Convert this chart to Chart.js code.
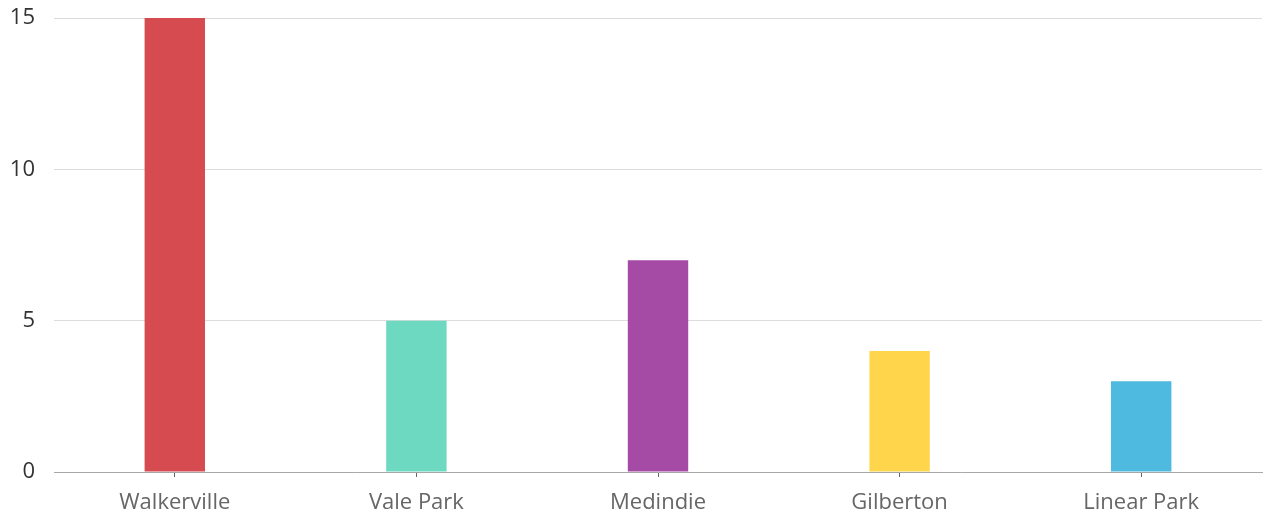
<!DOCTYPE html>
<html>
<head>
<meta charset="utf-8">
<script src="https://cdn.jsdelivr.net/npm/chart.js@4"></script>
<style>
  html, body { margin: 0; padding: 0; background: #fff; }
  #wrap { width: 1266px; height: 519px; position: relative; }
</style>
</head>
<body>
<div id="wrap"><canvas id="c"></canvas></div>
<script>
const categories = ['Walkerville', 'Vale Park', 'Medindie', 'Gilberton', 'Linear Park'];
const counts = [15, 5, 7, 4, 3];
const barColors = ['#d64b50', '#6dd9c1', '#a54aa5', '#ffd54c', '#4fbae0'];
const yTicks = [0, 5, 10, 15];

new Chart(document.getElementById('c'), {
  type: 'bar',
  data: {
    labels: categories,
    datasets: [{
      data: counts,
      backgroundColor: barColors,
      borderWidth: 0,
      barPercentage: 0.25,
      categoryPercentage: 1.0
    }]
  },
  options: {
    responsive: true,
    maintainAspectRatio: false,
    animation: false,
    layout: { padding: { top: 18, right: 4, left: 0, bottom: 0 } },
    plugins: { legend: { display: false }, tooltip: { enabled: false } },
    scales: {
      x: {
        offset: true,
        grid: {
          display: true,
          offset: false,
          drawOnChartArea: false,
          drawTicks: true,
          tickLength: 5,
          color: '#666'
        },
        border: { display: true, color: '#a8a8a8', width: 1 },
        ticks: {
          color: '#666',
          padding: 13,
          font: { family: 'Open Sans', size: 22 }
        },
        afterFit(scale) {
          scale.height = 47;
          scale.paddingLeft = 0;
          scale.paddingRight = 0;
        }
      },
      y: {
        min: 0,
        max: 15,
        afterBuildTicks(scale) { scale.ticks = yTicks.map(v => ({ value: v })); },
        grid: { color: '#dcdcdc', drawTicks: false },
        border: { display: false },
        ticks: {
          color: '#333',
          padding: 19,
          font: { family: 'Open Sans', size: 22 }
        },
        afterFit(scale) {
          scale.width = 54;
          scale.paddingTop = 0;
          scale.paddingBottom = 0;
        }
      }
    }
  }
});
</script>
</body>
</html>
